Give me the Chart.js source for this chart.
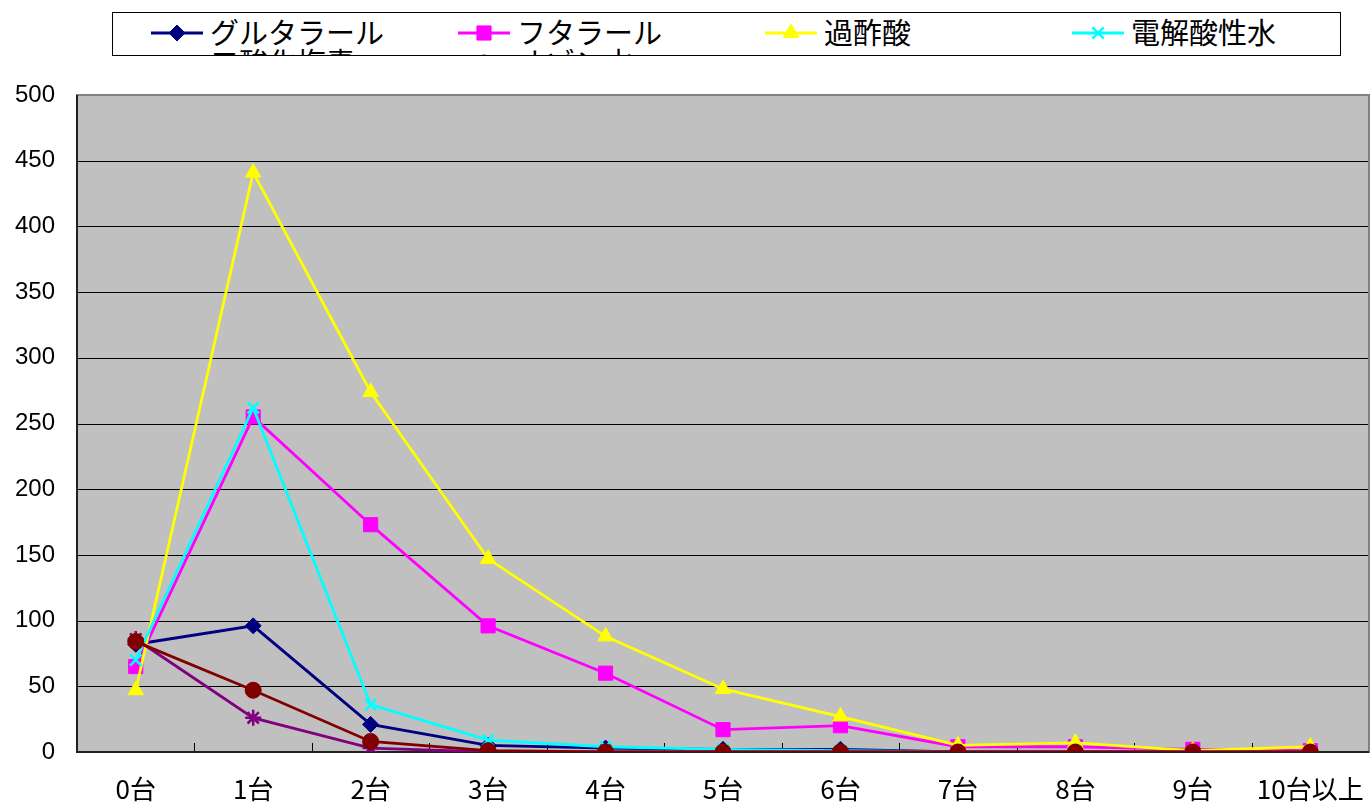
<!DOCTYPE html>
<html>
<head>
<meta charset="utf-8">
<script src="https://cdn.jsdelivr.net/npm/chart.js@4"></script>
<style>
  html, body { margin: 0; padding: 0; background: #fff; }
  #wrap { position: relative; width: 1371px; height: 804px; }
  #chart { position: absolute; left: 0; top: 0; }
  #legend {
    position: absolute; left: 112px; top: 12px; width: 1227px; height: 42px;
    border: 1px solid #000; background: #fff; overflow: hidden;
    font-family: "Noto Sans CJK JP", sans-serif; font-size: 29px; color: #000;
  }
  .item { position: absolute; width: 307px; height: 30px; }
  .item canvas { position: absolute; left: 36px; top: 0; }
  .item span { position: absolute; left: 97px; top: -4px; line-height: 36px; white-space: nowrap; }
</style>
</head>
<body>
<div id="wrap">
  <canvas id="chart" width="1371" height="804"></canvas>
  <div id="legend"></div>
</div>
<script>
// 카테고리 (台数)
const categories = ['0台', '1台', '2台', '3台', '4台', '5台', '6台', '7台', '8台', '9台', '10台以上'];
const yTicks = [0, 50, 100, 150, 200, 250, 300, 350, 400, 450, 500];

// 시리즈 값
const glutaral = [82, 96, 21, 5, 3, 2, 2, 0, 0, 0, 0];
const phthalal = [65, 255, 173, 96, 60, 17, 20, 4, 4, 2, 1];
const peracetic = [47, 441, 274, 147, 88, 48, 27, 5, 7, 1, 4];
const electrolyzed = [70, 262, 36, 9, 4, 2, 1, 0, 0, 0, 0];
const chlorineDioxide = [86, 26, 3, 0, 0, 0, 0, 0, 0, 0, 0];
const ozoneWater = [84, 47, 8, 1, 0, 0, 0, 0, 0, 0, 0];

const seriesNames = ['グルタラール', 'フタラール', '過酢酸', '電解酸性水', '二酸化塩素', 'オゾン水'];
const seriesData = [glutaral, phthalal, peracetic, electrolyzed, chlorineDioxide, ozoneWater];
const seriesColors = ['#000080', '#FF00FF', '#FFFF00', '#00FFFF', '#800080', '#800000'];
const seriesPoints = ['rectRot', 'rect', 'triangle', 'crossRot', 'star', 'circle'];
const seriesRadius = [8, 10, 9, 8, 8, 8];

// 플롯 배경, 테두리, 안쪽 눈금
const plotArea = {
    id: 'plotArea',
    beforeDatasetsDraw(chart) {
        const { ctx, chartArea: a } = chart;
        ctx.save();
        ctx.fillStyle = '#C0C0C0';
        ctx.fillRect(a.left, a.top, a.right - a.left, a.bottom - a.top);
        // 가로 그리드
        const y = chart.scales.y;
        ctx.strokeStyle = '#000';
        ctx.lineWidth = 1;
        yTicks.forEach(v => {
            const py = Math.round(y.getPixelForValue(v)) + 0.5;
            ctx.beginPath();
            ctx.moveTo(a.left, py);
            ctx.lineTo(a.right, py);
            ctx.stroke();
        });
        // x 축 안쪽 눈금
        const step = (a.right - a.left) / categories.length;
        for (let i = 1; i < categories.length; i++) {
            const px = Math.round(a.left + step * i) + 0.5;
            ctx.beginPath();
            ctx.moveTo(px, a.bottom);
            ctx.lineTo(px, a.bottom - 9);
            ctx.stroke();
        }
        // 테두리
        ctx.strokeStyle = '#808080';
        ctx.lineWidth = 2;
        ctx.strokeRect(a.left, a.top, a.right - a.left, a.bottom - a.top);
        ctx.strokeStyle = '#222';
        ctx.beginPath();
        ctx.moveTo(a.left, a.top);
        ctx.lineTo(a.left, a.bottom);
        ctx.lineTo(a.right, a.bottom);
        ctx.stroke();
        ctx.restore();
    }
};

const datasets = seriesNames.map((name, i) => ({
    label: name,
    data: seriesData[i],
    borderColor: seriesColors[i],
    backgroundColor: seriesColors[i],
    pointBackgroundColor: seriesColors[i],
    pointBorderColor: seriesColors[i],
    pointStyle: seriesPoints[i],
    pointRadius: seriesRadius[i],
    pointBorderWidth: (seriesPoints[i] === 'crossRot' || seriesPoints[i] === 'star') ? 2.5 : 1,
    borderWidth: 2.8,
    tension: 0,
    order: seriesNames.length - i
}));

new Chart(document.getElementById('chart').getContext('2d'), {
    type: 'line',
    data: { labels: categories, datasets: datasets },
    options: {
        responsive: false,
        animation: false,
        layout: { autoPadding: false, padding: { top: 95, right: 2, left: 0, bottom: 0 } },
        plugins: { legend: { display: false }, tooltip: { enabled: false } },
        scales: {
            x: {
                offset: true,
                grid: { display: false, drawTicks: false },
                border: { display: false },
                ticks: {
                    color: '#000',
                    padding: 22,
                    maxRotation: 0,
                    autoSkip: false,
                    font: { family: '"Noto Sans CJK JP"', size: 26 }
                },
                afterFit: s => { s.height = 52; s.paddingLeft = 0; s.paddingRight = 0; }
            },
            y: {
                min: 0,
                max: 500,
                grid: { display: false, drawTicks: false },
                border: { display: false },
                afterBuildTicks: s => { s.ticks = yTicks.map(v => ({ value: v })); },
                ticks: {
                    color: '#000',
                    padding: 22,
                    font: { family: '"Liberation Sans", Arial', size: 24 }
                },
                afterFit: s => { s.width = 77; s.paddingTop = 0; s.paddingBottom = 0; }
            }
        }
    },
    plugins: [plotArea]
});

// HTML 범례 (두 번째 줄은 잘림)
const legendBox = document.getElementById('legend');
seriesNames.forEach((name, i) => {
    const item = document.createElement('div');
    item.className = 'item';
    item.style.left = (307 * (i % 4)) + 'px';
    item.style.top = (4 + 30 * Math.floor(i / 4)) + 'px';
    const c = document.createElement('canvas');
    c.width = 56; c.height = 30;
    item.appendChild(c);
    const t = document.createElement('span');
    t.textContent = name;
    item.appendChild(t);
    legendBox.appendChild(item);
    const g = c.getContext('2d');
    g.strokeStyle = seriesColors[i];
    g.lineWidth = 2.8;
    g.beginPath();
    g.moveTo(2, 16);
    g.lineTo(54, 16);
    g.stroke();
    g.fillStyle = seriesColors[i];
    g.lineWidth = (seriesPoints[i] === 'crossRot' || seriesPoints[i] === 'star') ? 2.5 : 1;
    Chart.helpers.drawPoint(g, { pointStyle: seriesPoints[i], radius: seriesRadius[i], borderWidth: g.lineWidth }, 28, 16);
});
</script>
</body>
</html>
